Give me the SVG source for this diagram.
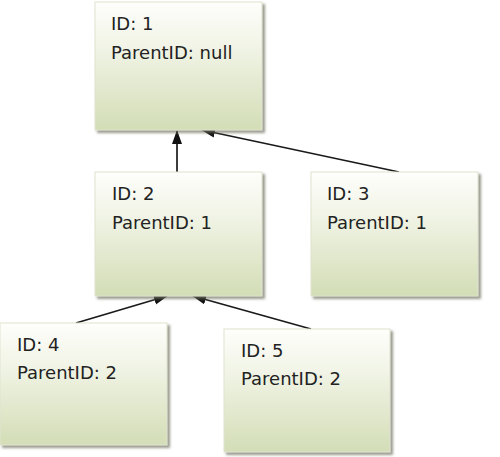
<svg xmlns="http://www.w3.org/2000/svg" width="500" height="457" viewBox="0 0 500 457">
<defs>
<linearGradient id="g" x1="0" y1="0" x2="0" y2="1">
<stop offset="0" stop-color="#fefefb"/>
<stop offset="0.35" stop-color="#f1f4e6"/>
<stop offset="1" stop-color="#d3ddb6"/>
</linearGradient>
<filter id="sh" x="-10%" y="-10%" width="130%" height="130%">
<feDropShadow dx="2.5" dy="2.5" stdDeviation="1.2" flood-color="#6f6f60" flood-opacity="0.7"/>
</filter>
<marker id="ah" markerUnits="userSpaceOnUse" markerWidth="14" markerHeight="11" refX="13" refY="5" orient="auto">
<path d="M0,0 L14,5 L0,10 z" fill="#111"/>
</marker>
</defs>
<style>
.box{fill:url(#g);stroke:#dfe3cf;stroke-width:1;filter:url(#sh)}
.t{font-family:"DejaVu Sans",Verdana,sans-serif;font-size:18px;fill:#222}
.c{stroke:#1a1a1a;stroke-width:1.7;fill:none;marker-end:url(#ah)}
</style>
<g id="connectors">
<line class="c" x1="177" y1="172" x2="177" y2="131"/>
<line class="c" x1="399" y1="172" x2="202" y2="130"/>
<line class="c" x1="76" y1="323" x2="167" y2="296"/>
<line class="c" x1="311" y1="329" x2="193" y2="296"/>
</g>
<g id="node1">
<rect class="box" x="95" y="2" width="167" height="128"/>
<text class="t" x="111" y="30">ID: 1</text>
<text class="t" x="111" y="59">ParentID: null</text>
</g>
<g id="node2">
<rect class="box" x="95" y="172" width="167" height="124"/>
<text class="t" x="112" y="200">ID: 2</text>
<text class="t" x="112" y="229">ParentID: 1</text>
</g>
<g id="node3">
<rect class="box" x="311" y="172" width="167" height="124"/>
<text class="t" x="327" y="200">ID: 3</text>
<text class="t" x="327" y="229">ParentID: 1</text>
</g>
<g id="node4">
<rect class="box" x="0" y="323" width="167" height="122"/>
<text class="t" x="17" y="351">ID: 4</text>
<text class="t" x="17" y="379">ParentID: 2</text>
</g>
<g id="node5">
<rect class="box" x="224" y="329" width="166" height="123"/>
<text class="t" x="241" y="357">ID: 5</text>
<text class="t" x="241" y="385">ParentID: 2</text>
</g>
</svg>
